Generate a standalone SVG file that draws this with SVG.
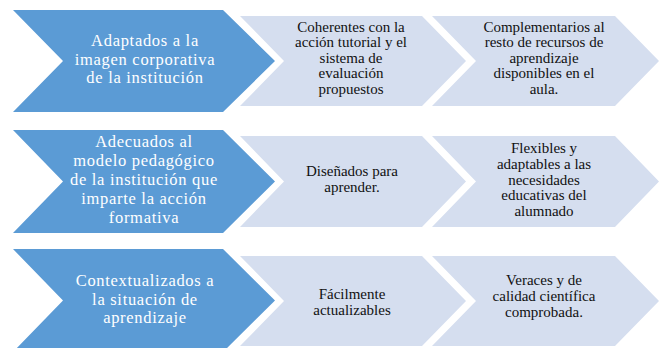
<svg xmlns="http://www.w3.org/2000/svg" width="664" height="348" viewBox="0 0 664 348">
<style>
.b{fill:#5B9BD5}
.l{fill:#D5DEEF}
.tb{font-size:16.5px;fill:#FFFFFF;text-anchor:middle;letter-spacing:0.7px}
.tl{font-size:15px;fill:#111111;text-anchor:middle}
</style>
<rect width="664" height="348" fill="#FFFFFF"/>
<g id="connectors"></g>
<g font-family="'Liberation Serif', 'DejaVu Serif', serif">
<g id="row1-main">
<polygon class="b" points="13,10 223,10 275,61 223,112 13,112 63,61"/>
<text class="tb"><tspan x="145" y="46">Adaptados a la</tspan><tspan x="145" y="64.5">imagen  corporativa</tspan><tspan x="145" y="82.5">de la institución</tspan></text>
</g>
<g id="row1-c1">
<polygon class="l" points="240,16 422,16 466,61 422,106 240,106 284,61"/>
<text class="tl"><tspan x="351" y="31.5">Coherentes con la</tspan><tspan x="351" y="47">acción tutorial y el</tspan><tspan x="351" y="62.5">sistema de</tspan><tspan x="351" y="78">evaluación</tspan><tspan x="351" y="93.5">propuestos</tspan></text>
</g>
<g id="row1-c2">
<polygon class="l" points="432,16 615,16 659,61 615,106 432,106 476,61"/>
<text class="tl"><tspan x="544" y="31.5">Complementarios al</tspan><tspan x="544" y="47">resto de recursos de</tspan><tspan x="544" y="62.5">aprendizaje</tspan><tspan x="544" y="78">disponibles en el</tspan><tspan x="544" y="93.5">aula.</tspan></text>
</g>
<g id="row2-main">
<polygon class="b" points="13,130 223,130 275,181.5 223,233 13,233 63,181.5"/>
<text class="tb"><tspan x="144" y="146.7">Adecuados al</tspan><tspan x="144" y="165.5">modelo  pedagógico</tspan><tspan x="144" y="184.5">de la institución  que</tspan><tspan x="144" y="203.5">imparte la acción</tspan><tspan x="144" y="222.5">formativa</tspan></text>
</g>
<g id="row2-c1">
<polygon class="l" points="240,136 422,136 466,181.5 422,227 240,227 284,181.5"/>
<text class="tl"><tspan x="352" y="175.5">Diseñados para</tspan><tspan x="352" y="191.5">aprender.</tspan></text>
</g>
<g id="row2-c2">
<polygon class="l" points="432,136 615,136 659,181.5 615,227 432,227 476,181.5"/>
<text class="tl"><tspan x="544" y="153">Flexibles y</tspan><tspan x="544" y="168.5">adaptables a las</tspan><tspan x="544" y="184.5">necesidades</tspan><tspan x="544" y="200">educativas del</tspan><tspan x="544" y="216">alumnado</tspan></text>
</g>
<g id="row3-main">
<polygon class="b" points="13,249 223,249 275,300.5 223,352 13,352 63,300.5"/>
<text class="tb"><tspan x="145" y="286">Contextualizados  a</tspan><tspan x="145" y="305">la situación de</tspan><tspan x="145" y="323">aprendizaje</tspan></text>
</g>
<g id="row3-c1">
<polygon class="l" points="240,256 422,256 466,301 422,346 240,346 284,301"/>
<text class="tl"><tspan x="352" y="299">Fácilmente</tspan><tspan x="352" y="314.5">actualizables</tspan></text>
</g>
<g id="row3-c2">
<polygon class="l" points="432,256 615,256 659,301 615,346 432,346 476,301"/>
<text class="tl"><tspan x="544" y="285">Veraces y de</tspan><tspan x="544" y="300.5">calidad científica</tspan><tspan x="544" y="316.5">comprobada.</tspan></text>
</g>
</g>
</svg>
